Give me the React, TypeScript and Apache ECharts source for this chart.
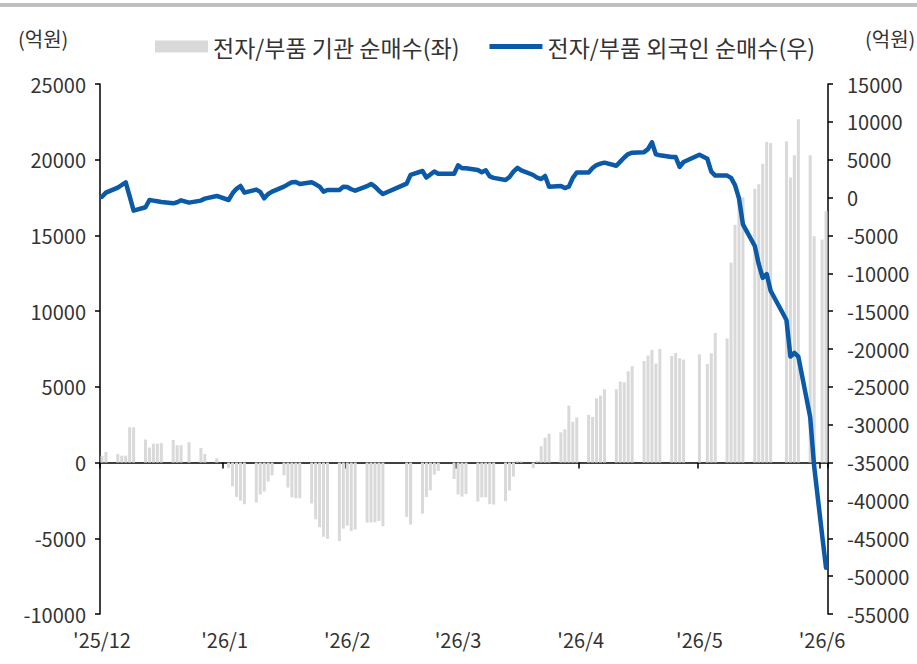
import React, { useEffect, useRef } from "react";
import * as echarts from "echarts";

// Month labels shown under the axis, one per month start
const monthLabels = ["'25/12", "'26/1", "'26/2", "'26/3", "'26/4", "'26/5", "'26/6"];
const monthNums = [12, 1, 2, 3, 4, 5, 6];
const monthDays = [31, 31, 28, 31, 30, 31, 2];

// Trading days (M/D)
const tradeDates = [
  "12/1", "12/2", "12/5", "12/6", "12/7", "12/8", "12/9",
  "12/12", "12/13", "12/14", "12/15", "12/16",
  "12/19", "12/20", "12/21", "12/23",
  "12/26", "12/27", "12/30",
  "1/2", "1/3", "1/4", "1/5", "1/6",
  "1/9", "1/10", "1/11", "1/12", "1/13",
  "1/16", "1/17", "1/18", "1/19", "1/20",
  "1/23", "1/24", "1/25", "1/26", "1/27",
  "1/30", "1/31", "2/1", "2/2", "2/3",
  "2/6", "2/7", "2/8", "2/9", "2/10",
  "2/16", "2/17",
  "2/20", "2/21", "2/22", "2/23", "2/24",
  "2/28", "3/1", "3/2", "3/3",
  "3/6", "3/7", "3/8", "3/9", "3/10",
  "3/13", "3/14", "3/15", "3/16", "3/17",
  "3/20", "3/21", "3/22", "3/23", "3/24",
  "3/27", "3/28", "3/29", "3/30", "3/31",
  "4/3", "4/4", "4/5", "4/6", "4/7",
  "4/10", "4/11", "4/12", "4/13", "4/14",
  "4/17", "4/18", "4/19", "4/20", "4/21",
  "4/24", "4/25", "4/26", "4/27",
  "5/1", "5/3", "5/4", "5/5",
  "5/8", "5/9", "5/10", "5/11", "5/12",
  "5/15", "5/16", "5/17", "5/18", "5/19",
  "5/23", "5/24", "5/25", "5/26",
  "5/29", "5/30", "6/1", "6/2",
];

// 전자/부품 기관 순매수 (좌, 억원)
const institutionNet = [
  450, 700, 570, 460, 460, 2330, 2330,
  1520, 990, 1250, 1250, 1280,
  1500, 1145, 1145, 1340,
  970, 570, 290,
  -350, -1560, -2270, -2510, -2750,
  -2640, -2110, -1915, -1255, -840,
  -840, -1650, -2290, -2355, -2355,
  -2700, -3740, -4270, -4900, -5040,
  -5190, -4360, -4160, -4510, -4420,
  -3960, -3960, -3940, -3850, -4200,
  -3590, -4090,
  -3370, -2270, -1830, -790, -550,
  -1080, -2110, -2245, -2070,
  -2575, -2290, -2290, -2750, -2770,
  -2550, -1850, -925, 90, 90,
  -370, 110, 1080, 1650, 1915,
  2000, 2200, 3760, 2700, 2970,
  3150, 3015, 4250, 4420, 4840,
  4840, 5350, 5300, 6030, 6360,
  6710, 7065, 7440, 6540, 7505,
  7040, 7240, 6890, 6800,
  7150, 6500, 7220, 8560,
  8200, 13200, 15700, 17500, 17500,
  18090, 18380, 19740, 21170, 21100,
  21220, 18820, 20290, 22670,
  20290, 14945, 14725, 16600,
];

// 전자/부품 외국인 순매수 (우, 억원)
const foreignNet = [
  100, 650, 1310, 1660, 2020, 150, -1730,
  -1280, -320, -400, -490, -580,
  -760, -620, -360, -670,
  -400, -140, 210,
  -320, 560, 1150, 1530, 650,
  1050, 750, -100, 470, 780,
  1440, 1750, 2010, 2060, 1800,
  2010, 1750, 1440, 780, 1000,
  1000, 1440, 1400, 1100, 910,
  1510, 1800, 1440, 910, 470,
  1840, 3000,
  3510, 2650, 3050, 3450, 3150,
  3150, 4250, 3870, 3870,
  3650, 3350, 3600, 2800, 2600,
  2320, 2720, 3420, 3930, 3580,
  2980, 2620, 2450, 2850, 1440,
  1530, 1250, 1440, 2600, 3310,
  3300, 3900, 4300, 4480, 4610,
  4210, 4750, 5300, 5750, 5930,
  6000, 6400, 7300, 5700, 5600,
  5350, 5350, 4050, 4700,
  5650, 5120, 3420, 2900,
  2900, 2600, 1650, -100, -3550,
  -6400, -8800, -10600, -10100, -12300,
  -16170, -21000, -20500, -21000,
  -29000, -35500, -44500, -48900,
];

const seriesNames = ["전자/부품 기관 순매수(좌)", "전자/부품 외국인 순매수(우)"];
const FONT = "'Noto Sans CJK KR', 'Noto Sans', sans-serif";
const BAR_COLOR = "#d9d9d9";
const LINE_COLOR = "#0b5aa8";

export default function App() {
  const ref = useRef<HTMLDivElement>(null);

  useEffect(() => {
    if (!ref.current) return;
    const chart = echarts.init(ref.current, undefined, { renderer: "svg" });

    const categories: string[] = [];
    const monthStartLabel: Record<number, string> = {};
    monthNums.forEach((m, i) => {
      for (let d = 1; d <= monthDays[i]; d++) {
        if (d === 1) monthStartLabel[categories.length] = monthLabels[i];
        categories.push(`${m}/${d}`);
      }
    });
    const barData = categories.map((c) => {
      const k = tradeDates.indexOf(c);
      return k >= 0 ? institutionNet[k] : null;
    });
    const lineData = categories.map((c) => {
      const k = tradeDates.indexOf(c);
      return k >= 0 ? foreignNet[k] : null;
    });
    const isMonthStart = (i: number) => monthStartLabel[i] !== undefined;

    const axisLabelStyle = { color: "#333", fontSize: 20, fontFamily: FONT };

    chart.setOption({
      animation: false,
      textStyle: { fontFamily: FONT },
      grid: { left: 100, right: 89, top: 84, bottom: 50, containLabel: false },
      legend: {
        left: 150,
        top: 30,
        itemWidth: 53,
        itemHeight: 12,
        itemGap: 30,
        textStyle: { color: "#333", fontSize: 23, fontFamily: FONT },
        data: [
          { name: seriesNames[0], icon: "rect", itemStyle: { color: BAR_COLOR } },
          {
            name: seriesNames[1],
            icon: "path://M0,0M0,3.5L53,3.5L53,8.5L0,8.5Z M53,12",
            itemStyle: { color: LINE_COLOR, borderWidth: 0 },
          },
        ],
      },
      graphic: [
        { type: "rect", left: 0, top: 3, shape: { width: 917, height: 4 }, style: { fill: "#bfbfbf" } },
        { type: "text", left: 18, top: 28, style: { text: "(억원)", fill: "#333", font: `20px ${FONT}` } },
        { type: "text", left: 865, top: 28, style: { text: "(억원)", fill: "#333", font: `20px ${FONT}` } },
      ],
      xAxis: [
        {
          type: "category",
          data: categories,
          boundaryGap: true,
          axisLine: { onZero: true, onZeroAxisIndex: 0, lineStyle: { color: "#000", width: 1.5 } },
          axisTick: { show: true, interval: (i: number) => isMonthStart(i), length: 6, lineStyle: { color: "#000", width: 1.5 } },
          axisLabel: { show: false },
          splitLine: { show: false },
        },
        {
          type: "category",
          data: categories,
          position: "bottom",
          boundaryGap: true,
          axisLine: { show: false, onZero: false },
          axisTick: { show: false },
          axisLabel: {
            ...axisLabelStyle,
            margin: 15,
            interval: (i: number) => isMonthStart(i),
            formatter: (_v: string, i: number) => monthStartLabel[i] ?? "",
          },
          splitLine: { show: false },
        },
      ],
      yAxis: [
        {
          type: "value",
          position: "left",
          min: -10000,
          max: 25000,
          interval: 5000,
          axisLine: { show: true, lineStyle: { color: "#000", width: 1.5 } },
          axisTick: { show: true, length: 5, lineStyle: { color: "#000", width: 1.5 } },
          axisLabel: { ...axisLabelStyle, margin: 14, formatter: (v: number) => String(v) },
          splitLine: { show: false },
        },
        {
          type: "value",
          position: "right",
          min: -55000,
          max: 15000,
          interval: 5000,
          axisLine: { show: true, lineStyle: { color: "#000", width: 1.5 } },
          axisTick: { show: true, length: 5, lineStyle: { color: "#000", width: 1.5 } },
          axisLabel: { ...axisLabelStyle, margin: 19, formatter: (v: number) => String(v) },
          splitLine: { show: false },
        },
      ],
      series: [
        {
          name: seriesNames[0],
          type: "bar",
          xAxisIndex: 0,
          yAxisIndex: 0,
          data: barData,
          barWidth: 3,
          itemStyle: { color: BAR_COLOR },
          z: 2,
        },
        {
          name: seriesNames[1],
          type: "line",
          xAxisIndex: 0,
          yAxisIndex: 1,
          data: lineData,
          connectNulls: true,
          symbol: "none",
          lineStyle: { color: LINE_COLOR, width: 4.5, join: "round", cap: "round" },
          itemStyle: { color: LINE_COLOR },
          z: 3,
        },
      ],
    });

    return () => chart.dispose();
  }, []);

  return (
    <div
      ref={ref}
      style={{ position: "fixed", left: 0, top: 0, width: 917, height: 664, background: "#fff" }}
    />
  );
}
